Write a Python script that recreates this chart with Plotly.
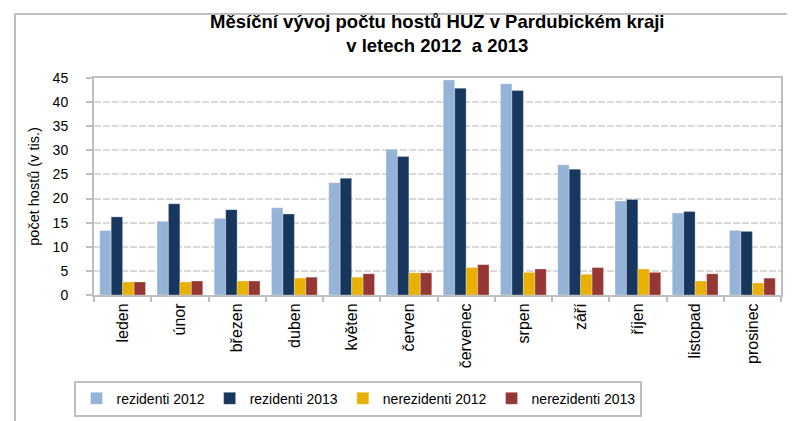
import plotly.graph_objects as go

months = ["leden", "únor", "březen", "duben", "květen", "červen", "červenec",
          "srpen", "září", "říjen", "listopad", "prosinec"]
rez_2012 = [13.4, 15.3, 15.9, 18.1, 23.3, 30.2, 44.6, 43.8, 27.0, 19.5, 17.0, 13.4]
rez_2013 = [16.2, 18.9, 17.7, 16.8, 24.2, 28.7, 42.9, 42.4, 26.1, 19.8, 17.3, 13.2]
nerez_2012 = [2.7, 2.7, 2.9, 3.5, 3.7, 4.6, 5.7, 4.7, 4.3, 5.4, 2.9, 2.5]
nerez_2013 = [2.7, 2.9, 2.9, 3.7, 4.4, 4.6, 6.3, 5.4, 5.7, 4.7, 4.4, 3.5]

series = [
    ("rezidenti 2012", rez_2012, "#95B3D7"),
    ("rezidenti 2013", rez_2013, "#17375E"),
    ("nerezidenti 2012", nerez_2012, "#E8B000"),
    ("nerezidenti 2013", nerez_2013, "#953735"),
]

FONT = "Liberation Sans, Arial, sans-serif"

fig = go.Figure()
for name, vals, col in series:
    fig.add_trace(go.Bar(
        x=months, y=vals, name=name,
        marker=dict(color=col, line=dict(color="rgba(255,255,255,0.6)", width=0.5)),
    ))

fig.update_layout(
    width=795, height=421,
    margin=dict(l=86, r=22, t=70, b=127),
    paper_bgcolor="white", plot_bgcolor="white",
    barmode="group", bargap=0.2, bargroupgap=0.0,
    font=dict(family=FONT, size=14, color="#000000"),
    title=dict(
        text="<b>Měsíční vývoj počtu hostů HUZ v Pardubickém kraji<br>v letech 2012  a 2013</b>",
        x=0.54, xanchor="center", y=0.953, yanchor="top",
        font=dict(family=FONT, size=18.5, color="#000000"),
    ),
    legend=dict(
        orientation="h", x=0.385, xanchor="center", y=-0.395, yanchor="top",
        bordercolor="#BFBFBF", borderwidth=2, bgcolor="white",
        font=dict(family=FONT, size=14), itemwidth=30,
        traceorder="normal",
    ),
)

fig.update_xaxes(
    type="category", tickangle=-90,
    showline=True, linecolor="#BFBFBF", linewidth=2, mirror=True,
    ticks="outside", tickson="boundaries", ticklen=5, tickcolor="#BFBFBF", tickwidth=2,
    tickfont=dict(family=FONT, size=16),
    showgrid=False,
)
fig.update_yaxes(
    range=[0, 45], dtick=5, tick0=0,
    showline=True, linecolor="#BFBFBF", linewidth=2, mirror=True,
    ticks="outside", ticklen=6, tickcolor="#BFBFBF", tickwidth=2,
    ticklabelstandoff=15,
    showgrid=True, gridcolor="#D9D9D9", gridwidth=2, griddash="7px,2px",
    tickfont=dict(family=FONT, size=14),
    title=dict(text="počet hostů (v tis.)", font=dict(family=FONT, size=14.5), standoff=10),
    zeroline=False,
)

# outer chart frame
fig.add_shape(type="rect", xref="paper", yref="paper",
              x0=(7 - 86) / 687, x1=(791 - 86) / 687,
              y0=-0.7, y1=(294 - 4) / 224,
              line=dict(color="#BFBFBF", width=2), fillcolor="rgba(0,0,0,0)", layer="below")

fig.write_html("out.html")
